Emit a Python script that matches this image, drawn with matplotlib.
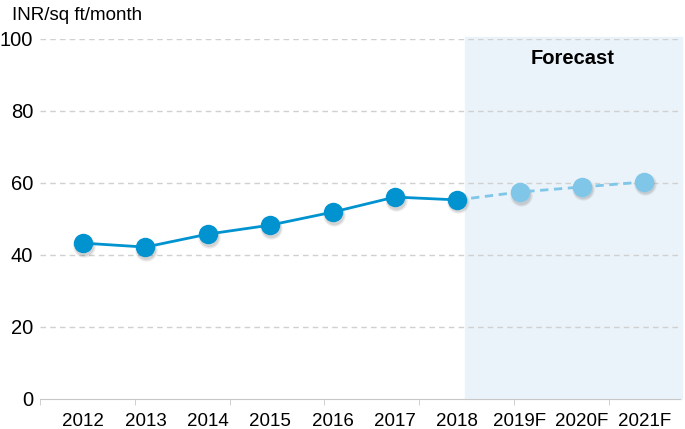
import matplotlib.pyplot as plt
import matplotlib.transforms as mtransforms
import numpy as np

plt.rcParams['font.family'] = ['Liberation Sans', 'DejaVu Sans']

# data
years = ['2012', '2013', '2014', '2015', '2016', '2017', '2018', '2019F', '2020F', '2021F']
actual = [43.3, 42.2, 45.8, 48.3, 51.9, 56.1, 55.3]
forecast = [55.3, 57.5, 58.9, 60.3]
yticks = [0, 20, 40, 60, 80, 100]

dark = '#0093D0'
light = '#7FC6E8'

fig = plt.figure(figsize=(6.85, 4.29), dpi=100)
ax = fig.add_axes([40/685, 30/429, 640/685, 360/429])

x = np.arange(len(years))
n_act = len(actual)

# forecast shading
ax.axvspan(6.13, 9.6, ymin=0, ymax=1.005, color='#EAF3FA', zorder=0, clip_on=False)

for v in yticks[1:]:
    ax.axhline(v, color='#D0D0D0', lw=1, ls=(0, (4, 3)), zorder=1)

# soft drop shadow under the markers
shadow_tr = mtransforms.offset_copy(ax.transData, fig=fig, x=1, y=-2.5, units='dots')
for xs, ys in [(x[:n_act], actual), (x[n_act:], forecast[1:])]:
    ax.plot(xs, ys, 'o', color='#555555', alpha=0.12, ms=16, mew=0, transform=shadow_tr, zorder=2)
    ax.plot(xs, ys, 'o', color='#555555', alpha=0.15, ms=14, mew=0, transform=shadow_tr, zorder=2)

ax.plot(x[n_act-1:], forecast, color=light, lw=2, ls=(0, (3, 2)), zorder=3)
ax.plot(x[n_act:], forecast[1:], 'o', color=light, ms=14, mew=0, zorder=3)
ax.plot(x[:n_act], actual, color=dark, lw=2, zorder=4)
ax.plot(x[:n_act], actual, 'o', color=dark, ms=14, mew=0, zorder=5)

ax.set_xlim(-0.69, 9.57)
ax.set_ylim(0, 100)
ax.set_yticks(yticks)
ax.set_yticklabels([str(v) for v in yticks], fontsize=14.5)
ax.set_xticks(x)
ax.set_xticklabels(years, fontsize=13.5)
ax.tick_params(axis='x', length=0, pad=10)
ax.tick_params(axis='y', length=0, pad=5)
# small tick marks along the bottom axis
ax.set_xticks(np.arange(-0.69, 9.6, 1.52), minor=True)
ax.tick_params(axis='x', which='minor', length=4, color='#C8C8C8')

for s in ['top', 'right', 'left']:
    ax.spines[s].set_visible(False)
ax.spines['bottom'].set_color('#C8C8C8')

ax.text(7.85, 94.5, 'Forecast', fontsize=14.5, fontweight='bold', ha='center', va='center')
fig.text(12/685, 1 - 16/429, 'INR/sq ft/month', fontsize=13.5, ha='left', va='center')

fig.savefig('out.png', dpi=100)
